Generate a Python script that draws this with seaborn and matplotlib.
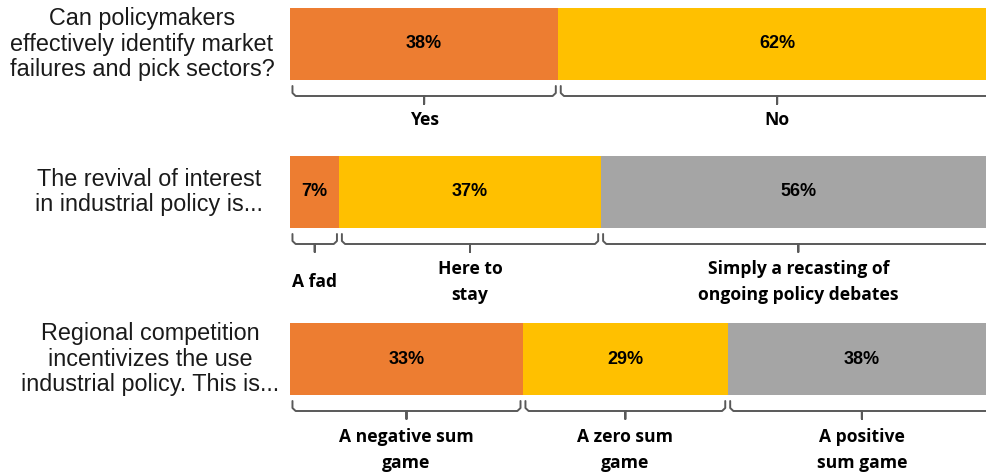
import numpy as np
import pandas as pd
import matplotlib
matplotlib.use("Agg")
import matplotlib.pyplot as plt
import seaborn as sns

sns.set_theme(style="white")

# data
questions = [
    "Can policymakers\neffectively identify market\nfailures and pick sectors?",
    "The revival of interest\nin industrial policy is...",
    "Regional competition\nincentivizes the use\nindustrial policy. This is...",
]
answers = [
    ["Yes", "No"],
    ["A fad", "Here to\nstay", "Simply a recasting of\nongoing policy debates"],
    ["A negative sum\ngame", "A zero sum\ngame", "A positive\nsum game"],
]
shares = [
    [38, 62],
    [7, 37, 56],
    [33, 29, 38],
]
colors = ["#ED7D31", "#FFC000", "#A5A5A5"]

W, H = 986, 474
fig = plt.figure(figsize=(W / 100, H / 100), dpi=100)

bar_top = [8, 156, 323]      # px from top
bar_h = 72                   # px
bar_w = 706                  # px, bar runs past the right edge
bar_left = 290
q_center = [142, 149, 150]
label_off = [40, 54, 55]     # px below bar bottom

for i in range(3):
    bottom = H - bar_top[i] - bar_h
    ax = fig.add_axes([bar_left / W, bottom / H, bar_w / W, bar_h / H])
    vals = np.array(shares[i], dtype=float)
    ends = np.cumsum(vals)
    starts = ends - vals
    # stacked bar: draw cumulative ends from longest to shortest
    for k in range(len(vals) - 1, -1, -1):
        df = pd.DataFrame({"q": ["q"], "end": [ends[k]]})
        sns.barplot(data=df, x="end", y="q", color=colors[k], width=1,
                    saturation=1, orient="h", ax=ax, edgecolor="none")
    ax.set_xlim(0, 100)
    ax.set_ylim(0.5, -0.5)
    ax.axis("off")

    px = 1.0 / bar_h  # y data units per pixel
    for k in range(len(vals)):
        xc = (starts[k] + ends[k]) / 2
        ax.text(xc, 0, f"{int(vals[k])}%", ha="center", va="center",
                fontsize=13, fontweight="bold", color="black",
                family="Liberation Sans")

        # brace under the segment
        x0 = starts[k] + 0.35
        x1 = ends[k] - 0.35
        r = 0.45
        y0 = 0.5 + 6 * px
        y1 = 0.5 + 13 * px
        ym = 0.5 + 16 * px
        yt = 0.5 + 24 * px
        bx = [x0, x0, x0 + r, xc, xc, xc, x1 - r, x1, x1]
        by = [y0, y1, ym, ym, yt, ym, ym, y1, y0]
        ax.plot(bx, by, color="#595959", lw=1.4, clip_on=False,
                solid_joinstyle="round")

        ax.text(xc, 0.5 + label_off[i] * px, answers[i][k], ha="center",
                va="center", fontsize=12.6, fontweight="bold", color="black",
                family="Open Sans", linespacing=1.55, clip_on=False)

    fig.text(q_center[i] / W, 1 - (bar_top[i] + bar_h / 2) / H, questions[i],
             ha="center", va="center", fontsize=16.8, color="#1a1a1a",
             family="Liberation Sans", linespacing=1.15,
             multialignment="center")

fig.savefig("out.png", dpi=100)
